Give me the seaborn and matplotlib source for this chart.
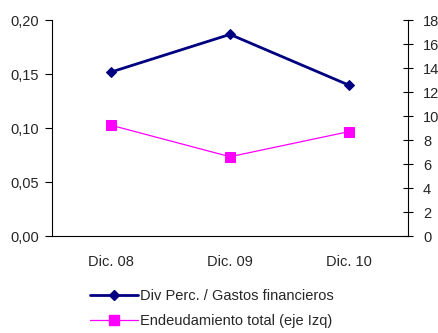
import matplotlib
matplotlib.use("Agg")
import matplotlib.pyplot as plt
import seaborn as sns
import pandas as pd
from matplotlib.lines import Line2D
from matplotlib.ticker import FuncFormatter

sns.set_style("white")
plt.rcParams['font.family'] = ['Liberation Sans', 'DejaVu Sans']

categories = ["Dic. 08", "Dic. 09", "Dic. 10"]
div_perc = [13.67, 16.8, 12.58]          # right axis
endeudamiento = [0.1025, 0.0734, 0.0966]  # left axis
left_ticks = [0.00, 0.05, 0.10, 0.15, 0.20]
right_ticks = [0, 2, 4, 6, 8, 10, 12, 14, 16, 18]
label_div = "Div Perc. / Gastos financieros"
label_end = "Endeudamiento total (eje Izq)"

df = pd.DataFrame({"pos": range(len(categories)), "div": div_perc, "end": endeudamiento})

fig = plt.figure(figsize=(4.38, 3.33), dpi=100)
ax = fig.add_axes([52/438, 1-236/333, (408-52)/438, (236-20)/333])
ax2 = ax.twinx()

navy = "#000080"
mag = "#FF00FF"
fs = 10.5

sns.lineplot(data=df, x="pos", y="end", ax=ax, color=mag, lw=0.9, marker="s",
             markersize=7, markeredgecolor=mag, markerfacecolor=mag)
sns.lineplot(data=df, x="pos", y="div", ax=ax2, color=navy, lw=2.0, marker="D",
             markersize=5.5, markeredgecolor=navy, markerfacecolor=navy)

ax.set_xlim(-0.5, len(categories) - 0.5)
ax.set_ylim(0, 0.20)
ax2.set_ylim(0, 18)
ax.set_yticks(left_ticks)
ax.yaxis.set_major_formatter(FuncFormatter(lambda v, p: f"{v:.2f}".replace(".", ",")))
ax2.set_yticks(right_ticks)

ax.set_xticks([i - 0.5 for i in range(len(categories) + 1)])
ax.set_xticklabels([])
ax.set_xticks(list(range(len(categories))), minor=True)
ax.set_xticklabels(categories, minor=True)
ax.tick_params(axis="x", which="minor", length=0, pad=14, labelsize=fs)
ax.tick_params(axis="x", which="major", direction="out", length=5, width=0.8, color="black")
ax.tick_params(axis="y", direction="out", length=5, width=0.8, color="black", labelsize=fs, pad=4.5)
ax2.tick_params(axis="y", direction="inout", length=7.5, width=0.8, color="black", labelsize=fs, pad=7)

for a in (ax, ax2):
    a.set_xlabel("")
    a.set_ylabel("")
    a.spines["top"].set_visible(False)
    for s in ("left", "right", "bottom"):
        a.spines[s].set_color("black")
        a.spines[s].set_linewidth(0.8)
ax.spines["right"].set_visible(False)
ax2.spines["left"].set_visible(False)
ax2.spines["bottom"].set_visible(False)

handles = [
    Line2D([], [], color=navy, lw=2.0, marker="D", markersize=5.5),
    Line2D([], [], color=mag, lw=0.9, marker="s", markersize=7),
]
fig.legend(handles, [label_div, label_end], loc="upper left",
           bbox_to_anchor=(90/438, 1-289/333), frameon=False, fontsize=fs,
           handlelength=3.3, handletextpad=0.1, labelspacing=0.78, borderpad=0,
           borderaxespad=0)

fig.savefig("out.png", dpi=100)
